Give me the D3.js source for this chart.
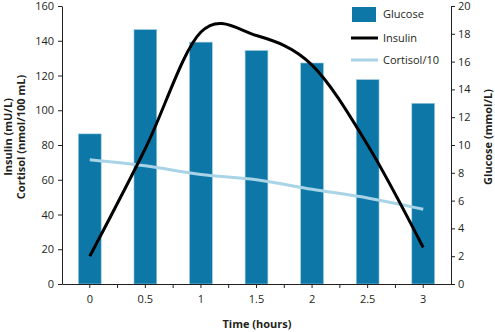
<!DOCTYPE html>
<html>
<head>
<meta charset="utf-8">
<script src="https://cdn.jsdelivr.net/npm/d3@7"></script>
<style>
  body { margin: 0; background: #fff; }
  svg text { font-family: "Open Sans", sans-serif; fill: #231f20; }
  .axis path, .axis line { stroke: #231f20; }
  .title { font-weight: bold; font-size: 11px; }
</style>
</head>
<body>
<svg id="chart" width="495" height="332"></svg>
<script>
// time points and measurements
var hours = ["0", "0.5", "1", "1.5", "2", "2.5", "3"];
var glucose = [10.8, 18.3, 17.4, 16.8, 15.9, 14.7, 13.0];   // mmol/L, right axis
var insulin = [16, 78, 145, 143, 126, 80, 21];              // mU/L, left axis
var cortisol10 = [71.5, 68, 63, 60, 54.5, 49.5, 43];        // cortisol / 10, left axis
var leftTicks = [0, 20, 40, 60, 80, 100, 120, 140, 160];
var rightTicks = [0, 2, 4, 6, 8, 10, 12, 14, 16, 18, 20];

var svg = d3.select("#chart");
// plot box (note: "top" is taken by window.top)
var plotL = 62, plotR = 451, plotT = 6, plotB = 284;

var x = d3.scaleBand().domain(hours).range([plotL, plotR]).padding(0);
var yL = d3.scaleLinear().domain([0, 160]).range([plotB, plotT]);
var yR = d3.scaleLinear().domain([0, 20]).range([plotB, plotT]);
var bw = x.bandwidth() * 0.41;
var cx = function(h) { return x(h) + x.bandwidth() / 2; };

// glucose bars
svg.append("g").selectAll("rect")
  .data(glucose)
  .enter().append("rect")
  .attr("x", function(d, i) { return cx(hours[i]) - bw / 2; })
  .attr("y", function(d) { return yR(d); })
  .attr("width", bw)
  .attr("height", function(d) { return plotB - yR(d); })
  .attr("fill", "#0d78a8")
  .attr("stroke", "#9ccbe0")
  .attr("stroke-width", 0.6);

// smoothed lines
var line = d3.line()
  .x(function(d, i) { return cx(hours[i]); })
  .y(function(d) { return yL(d); })
  .curve(d3.curveCardinal.tension(0));

svg.append("path").datum(cortisol10)
  .attr("d", line).attr("fill", "none")
  .attr("stroke", "#a9d3e6").attr("stroke-width", 3);

svg.append("path").datum(insulin)
  .attr("d", line).attr("fill", "none")
  .attr("stroke", "#000").attr("stroke-width", 3);

// axes
var ax = svg.append("g").attr("class", "axis")
  .attr("transform", "translate(0," + plotB + ")")
  .call(d3.axisBottom(x).tickSize(4).tickSizeOuter(0).tickPadding(7))
  .style("font-size", "11px");
ax.selectAll("text").style("font-family", "Open Sans");
// extra tick marks on category boundaries
ax.selectAll(".bound")
  .data(hours.slice(1))
  .enter().append("line")
  .attr("x1", function(h) { return x(h); })
  .attr("x2", function(h) { return x(h); })
  .attr("y1", 0).attr("y2", 4)
  .attr("stroke", "#231f20");

var ayl = svg.append("g").attr("class", "axis")
  .attr("transform", "translate(" + plotL + ",0)")
  .call(d3.axisLeft(yL).tickValues(leftTicks).tickSize(4).tickPadding(4).tickSizeOuter(0))
  .style("font-size", "11px");
ayl.selectAll("text").style("font-family", "Open Sans");

var ayr = svg.append("g").attr("class", "axis")
  .attr("transform", "translate(" + plotR + ",0)")
  .call(d3.axisRight(yR).tickValues(rightTicks).tickSize(4).tickPadding(3).tickSizeOuter(0))
  .style("font-size", "11px");
ayr.selectAll("text").style("font-family", "Open Sans");

// axis titles
svg.append("text").attr("class", "title")
  .attr("x", 257).attr("y", 328).attr("text-anchor", "middle")
  .text("Time (hours)");

svg.append("text").attr("class", "title")
  .attr("transform", "translate(12,137) rotate(-90)")
  .attr("text-anchor", "middle")
  .text("Insulin (mU/L)");
svg.append("text").attr("class", "title")
  .attr("transform", "translate(25,137) rotate(-90)")
  .attr("text-anchor", "middle")
  .text("Cortisol (nmol/100 mL)");

svg.append("text").attr("class", "title")
  .attr("transform", "translate(492,137) rotate(-90)")
  .attr("text-anchor", "middle")
  .text("Glucose (mmol/L)");

// legend
var lg = svg.append("g").style("font-size", "11px");
lg.append("rect").attr("x", 352).attr("y", 7).attr("width", 24).attr("height", 15)
  .attr("fill", "#0d78a8");
lg.append("text").attr("x", 383).attr("y", 18).text("Glucose");
lg.append("line").attr("x1", 351).attr("x2", 378).attr("y1", 38).attr("y2", 38)
  .attr("stroke", "#000").attr("stroke-width", 3);
lg.append("text").attr("x", 383).attr("y", 42).text("Insulin");
lg.append("line").attr("x1", 351).attr("x2", 378).attr("y1", 60).attr("y2", 60)
  .attr("stroke", "#a9d3e6").attr("stroke-width", 3);
lg.append("text").attr("x", 383).attr("y", 64).text("Cortisol/10");
</script>
</body>
</html>
